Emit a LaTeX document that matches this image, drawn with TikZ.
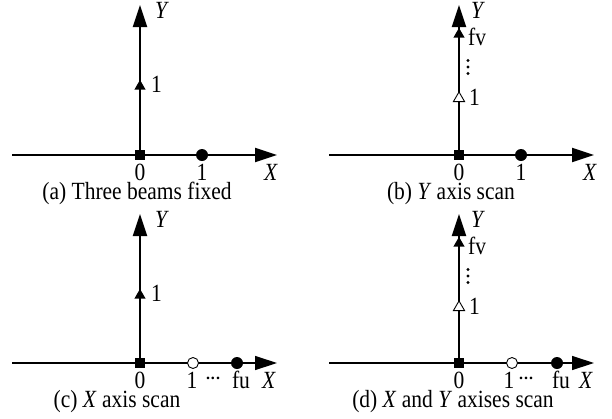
\documentclass[tikz,border=0pt]{standalone}
\usepackage{fontspec}
\setmainfont{Liberation Serif}
\usetikzlibrary{arrows.meta,shapes.geometric}
\newcommand{\st}[1]{\scalebox{1}[1.15]{#1}}
\newcommand{\myhd}{\hbox{.\kern1pt.\kern1pt.}}
\begin{document}
\begin{tikzpicture}[x=1pt,y=-1pt,
 axis/.style={line width=2pt,-{Triangle[length=22pt,width=14pt]}},
 thinaxis/.style={line width=1.3pt,-{Triangle[length=22pt,width=14pt]}},
 sq/.style={rectangle,fill=black,minimum size=10.5pt,inner sep=0pt},
 dotf/.style={circle,fill=black,minimum size=12pt,inner sep=0pt},
 doto/.style={circle,draw=black,fill=white,line width=0.9pt,minimum size=11pt,inner sep=0pt},
 trif/.style={regular polygon,regular polygon sides=3,fill=black,minimum size=13pt,inner sep=0pt},
 trio/.style={regular polygon,regular polygon sides=3,draw=black,fill=white,line width=0.9pt,minimum size=13pt,inner sep=0pt},
 tiny/.style={circle,fill=black,minimum size=3.4pt,inner sep=0pt},
 lab/.style={font=\fontsize{21.5}{23}\selectfont,inner sep=0pt,anchor=base},
 labw/.style={lab,anchor=base west},
 hdts/.style={font=\fontsize{16}{16}\selectfont\bfseries,inner sep=0pt,anchor=base},
]
\useasboundingbox (0,0) rectangle (612,418);
\fill[white] (0,0) rectangle (612,418);

% ---------- (a)
\coordinate (aO) at (140,155);
\coordinate (aXl) at (12,155);
\coordinate (aXr) at (277,155);
\coordinate (aYt) at (140,5);
\draw[axis] (aXl) -- (aXr);
\draw[axis] (aO) -- (aYt);
\node[sq] (asq) at (aO) {};
\node[dotf] (ac1) at (202,155) {};
\node[trif] (at1) at (140,86.4) {};
\node[lab] (a0) at (140,180.5) {\st{0}};
\node[lab] (a1x) at (202,180.5) {\st{1}};
\node[lab] (aX) at (271,180) {\st{\textit{X}}};
\node[lab] (aY) at (162,18) {\st{\textit{Y}}};
\node[labw] (a1y) at (151,92) {\st{1}};
\node[lab] (acap) at (137,199.5) {\st{(a) Three beams fixed}};

% ---------- (b)
\coordinate (bO) at (459,155);
\coordinate (bXl) at (329,155);
\coordinate (bXr) at (594,155);
\coordinate (bYt) at (459,5);
\draw[axis] (bXl) -- (bXr);
\draw[axis] (bO) -- (bYt);
\node[sq] (bsq) at (bO) {};
\node[dotf] (bc1) at (521,155) {};
\node[trif] (btf) at (459,34.4) {};
\node[trio] (bto) at (459,98.4) {};
\node[labw] (bfv) at (468,45) {\st{fv}};
\node[tiny] (bv1) at (468,60.5) {};
\node[tiny] (bv2) at (468,67) {};
\node[tiny] (bv3) at (468,73.5) {};
\node[labw] (b1y) at (469,105) {\st{1}};
\node[lab] (bY) at (478,18) {\st{\textit{Y}}};
\node[lab] (b0) at (459,180.5) {\st{0}};
\node[lab] (b1x) at (521,180.5) {\st{1}};
\node[lab] (bX) at (590,180) {\st{\textit{X}}};
\node[lab] (bcap) at (451,199.5) {\st{(b) \textit{Y} axis scan}};

% ---------- (c)
\coordinate (cO) at (140,363);
\coordinate (cXl) at (12,363);
\coordinate (cXr) at (277,363);
\coordinate (cYt) at (140,214);
\draw[thinaxis] (cXl) -- (cXr);
\draw[axis] (cO) -- (cYt);
\node[sq] (csq) at (cO) {};
\node[doto] (cco) at (193,363) {};
\node[dotf] (ccf) at (237,363) {};
\node[trif] (ct1) at (140,295.4) {};
\node[labw] (c1y) at (151,301) {\st{1}};
\node[lab] (cY) at (162,227) {\st{\textit{Y}}};
\node[lab] (c0) at (140,388.5) {\st{0}};
\node[lab] (c1x) at (192,388.5) {\st{1}};
\node[hdts] (cdt) at (213,379) {\myhd};
\node[lab] (cfu) at (241,388.5) {\st{fu}};
\node[lab] (cX) at (269,388) {\st{\textit{X}}};
\node[lab] (ccap) at (117,407.5) {\st{(c) \textit{X} axis scan}};

% ---------- (d)
\coordinate (dO) at (459,363);
\coordinate (dXl) at (329,363);
\coordinate (dXr) at (594,363);
\coordinate (dYt) at (459,214);
\draw[thinaxis] (dXl) -- (dXr);
\draw[axis] (dO) -- (dYt);
\node[sq] (dsq) at (dO) {};
\node[doto] (dco) at (512,363) {};
\node[dotf] (dcf) at (557,363) {};
\node[trif] (dtf) at (459,243.4) {};
\node[trio] (dto) at (459,307.4) {};
\node[labw] (dfv) at (468,254) {\st{fv}};
\node[tiny] (dv1) at (468,269.5) {};
\node[tiny] (dv2) at (468,276) {};
\node[tiny] (dv3) at (468,282.5) {};
\node[labw] (d1y) at (469,314) {\st{1}};
\node[lab] (dY) at (478,227) {\st{\textit{Y}}};
\node[lab] (d0) at (459,388.5) {\st{0}};
\node[lab] (d1x) at (509,388.5) {\st{1}};
\node[hdts] (ddt) at (526,379) {\myhd};
\node[lab] (dfu) at (561,388.5) {\st{fu}};
\node[lab] (dX) at (586,388) {\st{\textit{X}}};
\node[lab] (dcap) at (453,407.5) {\st{(d) \textit{X} and \textit{Y} axises scan}};
\end{tikzpicture}
\end{document}
